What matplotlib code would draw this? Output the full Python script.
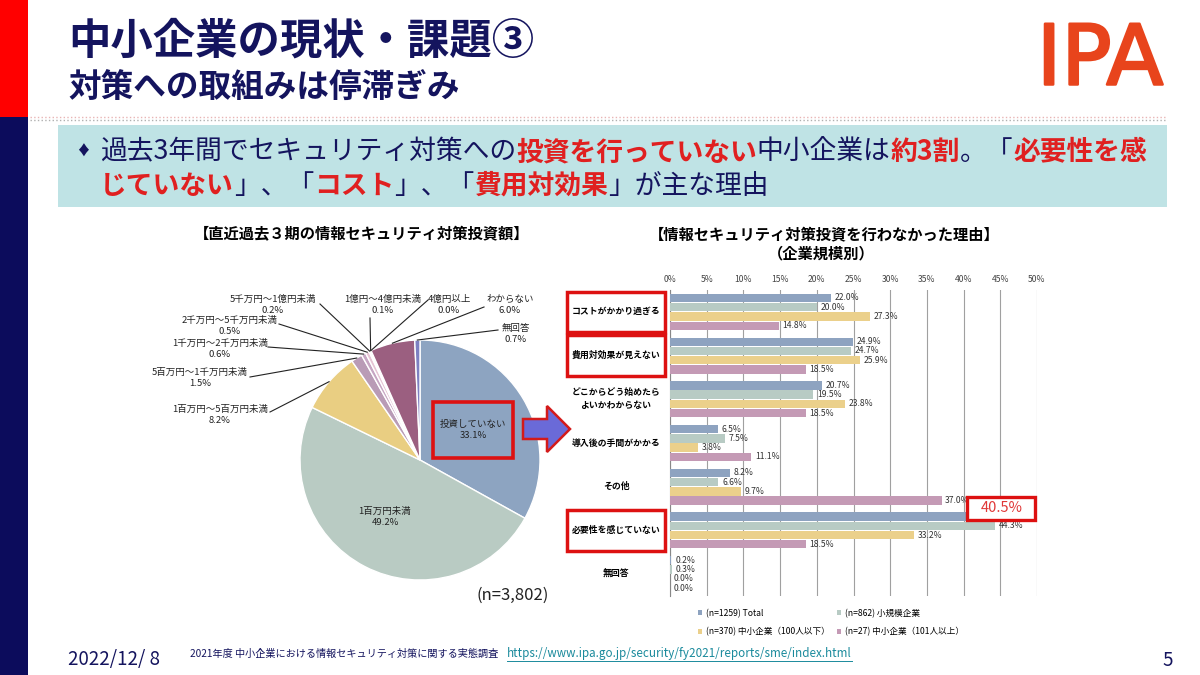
import matplotlib
matplotlib.use('Agg')
import numpy as np
import matplotlib.pyplot as plt
import matplotlib.patches as mpatches
import matplotlib.patheffects as pe
from matplotlib.transforms import blended_transform_factory

plt.rcParams['font.family'] = ['Noto Sans CJK JP', 'DejaVu Sans']

# --- pie data ---
pie_labels = ['投資していない', '1百万円未満', '1百万円～5百万円未満', '5百万円～1千万円未満',
              '1千万円～2千万円未満', '2千万円～5千万円未満', '5千万円～1億円未満',
              '1億円～4億円未満', '4億円以上', 'わからない', '無回答']
pie_values = [33.1, 49.2, 8.2, 1.5, 0.6, 0.5, 0.2, 0.1, 0.0, 6.0, 0.7]

# --- bar data ---
reasons = ['コストがかかり過ぎる', '費用対効果が見えない', 'どこからどう始めたら\nよいかわからない',
           '導入後の手間がかかる', 'その他', '必要性を感じていない', '無回答']
total = [22.0, 24.9, 20.7, 6.5, 8.2, 40.5, 0.2]
small_biz = [20.0, 24.7, 19.5, 7.5, 6.6, 44.3, 0.3]
sme_100 = [27.3, 25.9, 23.8, 3.8, 9.7, 33.2, 0.0]
sme_101 = [14.8, 18.5, 18.5, 11.1, 37.0, 18.5, 0.0]
series_names = ['(n=1259) Total', '(n=862) 小規模企業', '(n=370) 中小企業（100人以下）', '(n=27) 中小企業（101人以上）']
xticks = [0, 5, 10, 15, 20, 25, 30, 35, 40, 45, 50]

# styles
NAVY = '#14145e'
RED = '#e02020'
pie_colors = ['#8da4c1', '#b9cbc3', '#e9ce82', '#b99bb6', '#c7a6c3', '#e6c4d4',
              '#f0cfc0', '#d8d0e8', '#cccccc', '#9b5f80', '#7d80c2']
bar_colors = ['#8ea3c0', '#b8cbc4', '#ebd08b', '#c49ab5']

W, H = 1200, 675
fig = plt.figure(figsize=(12, 6.75), dpi=100)
fig.patch.set_facecolor('white')

ax_bg = fig.add_axes([0, 0, 1, 1], zorder=0)
ax_bg.set_xlim(0, W)
ax_bg.set_ylim(H, 0)
ax_bg.axis('off')

ax_top = fig.add_axes([0, 0, 1, 1], zorder=5)
ax_top.set_xlim(0, W)
ax_top.set_ylim(H, 0)
ax_top.axis('off')
ax_top.patch.set_alpha(0)

# slide frame
ax_bg.add_patch(mpatches.Rectangle((0, 0), 28, 117, fc='#ff0000', ec='none'))
ax_bg.add_patch(mpatches.Rectangle((0, 117), 28, H - 117, fc='#0c0c5c', ec='none'))
ax_bg.plot([30, 1165], [117, 117], color='#e8b4b4', ls=':', lw=1)
ax_bg.plot([30, 1165], [120, 120], color='#b0b0b0', ls=':', lw=1)

ax_bg.text(68, 42, '中小企業の現状・課題③', fontsize=30.5, weight='bold', color=NAVY, va='center')
ax_bg.text(68, 88, '対策への取組みは停滞ぎみ', fontsize=23.5, weight='bold', color=NAVY, va='center')
ax_bg.text(1100, 61, 'IPA', fontsize=60, color='#e8441c', va='center', ha='center',
           family='DejaVu Sans', weight='normal',
           path_effects=[pe.withStroke(linewidth=1.8, foreground='#e8441c', capstyle='round', joinstyle='round')])

# summary box
ax_bg.add_patch(mpatches.Rectangle((58, 125), 1109, 82, fc='#bfe3e5', ec='none'))
renderer = fig.canvas.get_renderer()


def draw_runs(ax, x, y, runs, size):
    for txt, col, wt in runs:
        t = ax.text(x, y, txt, fontsize=size, color=col, weight=wt, va='center', ha='left')
        x += t.get_window_extent(renderer).width
    return x


ax_bg.text(76, 152, '♦', fontsize=10, color=NAVY, va='center')
draw_runs(ax_bg, 100, 152, [('過去3年間でセキュリティ対策への', NAVY, 'normal'),
                            ('投資を行っていない', RED, 'bold'), ('中小企業は', NAVY, 'normal'),
                            ('約3割', RED, 'bold'), ('。「', NAVY, 'normal'),
                            ('必要性を感', RED, 'bold')], 19.3)
draw_runs(ax_bg, 100, 186, [('じていない', RED, 'bold'), ('」、「', NAVY, 'normal'),
                            ('コスト', RED, 'bold'), ('」、「', NAVY, 'normal'),
                            ('費用対効果', RED, 'bold'), ('」が主な理由', NAVY, 'normal')], 19.3)

# chart titles
ax_bg.text(362, 234, '【直近過去３期の情報セキュリティ対策投資額】', fontsize=11, weight='bold', ha='center', va='center')
ax_bg.text(824, 234, '【情報セキュリティ対策投資を行わなかった理由】', fontsize=11, weight='bold', ha='center', va='center')
ax_bg.text(821, 253, '（企業規模別）', fontsize=11, weight='bold', ha='center', va='center')

# footer
ax_bg.text(68, 660, '2022/12/ 8', fontsize=13.5, color=NAVY, va='center')
ax_bg.text(190, 654, '2021年度 中小企業における情報セキュリティ対策に関する実態調査', fontsize=7.3, color=NAVY, va='center')
link = ax_bg.text(507, 654, 'https://www.ipa.go.jp/security/fy2021/reports/sme/index.html', fontsize=8.4,
                  color='#1a8a9c', va='center')
lw_px = link.get_window_extent(renderer).width
ax_bg.plot([507, 507 + lw_px], [661, 661], color='#1a8a9c', lw=0.7)
ax_bg.text(1162, 660, '5', fontsize=13.5, color=NAVY, va='center')

# --- pie ---
PIE_CX, PIE_CY, PIE_R = 420, 460, 120
ax_pie = fig.add_axes([(PIE_CX - PIE_R) / W, (H - PIE_CY - PIE_R) / H, 2 * PIE_R / W, 2 * PIE_R / H], zorder=2)
wedges, _ = ax_pie.pie(pie_values, startangle=90, counterclock=False, colors=pie_colors,
                       wedgeprops=dict(edgecolor='white', linewidth=1))
ax_pie.set_xlim(-1, 1)
ax_pie.set_ylim(-1, 1)


def px2pie(px, py):
    return (px - PIE_CX) / PIE_R, (PIE_CY - py) / PIE_R


# label layout in pixels: (text x, text y, line end x, line end y); None = inside label
pie_label_pos = [(473, 430, None, None), (385, 517, None, None), (220, 415, 270, 412),
                 (200, 378, 250, 377), (220, 349, 268, 347), (230, 326, 279, 324),
                 (273, 305, 320, 304), (383, 305, 370, 318), (449, 305, 428, 300),
                 (510, 305, 484, 307), (516, 334, 498, 330)]

for w, lab, val, (tx, ty, lx, ly) in zip(wedges, pie_labels, pie_values, pie_label_pos):
    px, py = px2pie(tx, ty)
    ax_pie.text(px, py, f'{lab}\n{val:.1f}%', fontsize=6.8, ha='center', va='center',
                color='#222222', linespacing=1.2)
    if lx is not None:
        mid = np.deg2rad((w.theta1 + w.theta2) / 2)
        ex, ey = px2pie(lx, ly)
        ax_pie.plot([np.cos(mid), ex], [np.sin(mid), ey], color='#222222', lw=0.8, clip_on=False)

ax_bg.text(513, 595, '(n=3,802)', fontsize=12, color='#222222', ha='center', va='center')

# --- bars ---
BX0, BX1, BY0, BY1 = 670, 1037, 290, 596
ax_bar = fig.add_axes([BX0 / W, (H - BY1) / H, (BX1 - BX0) / W, (BY1 - BY0) / H], zorder=2)
ax_bar.set_xlim(0, 50)
ax_bar.set_ylim(len(reasons) - 0.5, -0.5)
series = [total, small_biz, sme_100, sme_101]
step, bh = 0.212, 0.19
bars = []
highlight = None
for j, (vals, col, name) in enumerate(zip(series, bar_colors, series_names)):
    ys = [i + (j - 1.5) * step for i in range(len(reasons))]
    b = ax_bar.barh(ys, vals, height=bh, color=col, label=name, zorder=3)
    bars.append(b)
    for i, (y, v) in enumerate(zip(ys, vals)):
        if i == 5 and j == 0:
            highlight = (v, y)
        else:
            ax_bar.text(v + 0.5, y, f'{v:.1f}%', va='center', ha='left', fontsize=6.2, color='#333333', zorder=4)

ax_bar.set_xticks(xticks)
ax_bar.set_xticklabels([f'{t}%' for t in xticks], fontsize=6.2, color='#444444')
ax_bar.xaxis.tick_top()
ax_bar.tick_params(axis='x', length=0, pad=4)
ax_bar.set_yticks([])
ax_bar.grid(axis='x', color='#a0a0a0', lw=0.8, zorder=0)
for s in ['top', 'right', 'bottom']:
    ax_bar.spines[s].set_visible(False)
ax_bar.spines['left'].set_color('#888888')
ax_bar.patch.set_alpha(0)

bt = blended_transform_factory(ax_bar.transAxes, ax_bar.transData)
box_x0 = (567 - BX0) / (BX1 - BX0)
box_x1 = (665 - BX0) / (BX1 - BX0)
for i, r in enumerate(reasons):
    ax_bar.text((box_x0 + box_x1) / 2, i, r, transform=bt, ha='center', va='center', fontsize=6.4,
                weight='bold', multialignment='center', linespacing=1.6)
    if i in (0, 1, 5):
        ax_bar.add_patch(mpatches.Rectangle((box_x0, i - 0.46), box_x1 - box_x0, 0.92, transform=bt,
                                            fill=False, ec='#dd1111', lw=2.5, clip_on=False, zorder=6))

handles = [bars[0], bars[2], bars[1], bars[3]]
labels = [series_names[0], series_names[2], series_names[1], series_names[3]]
ax_bar.legend(handles, labels, loc='upper left', bbox_to_anchor=(690 / W, (H - 601) / H),
              bbox_transform=fig.transFigure, ncol=2, frameon=False, fontsize=6.2,
              handlelength=0.5, handleheight=0.5, handletextpad=0.4, labelspacing=1.1,
              columnspacing=0.9)

# highlighted value box (pixel position from the bar end)
hv, hy = highlight
dx, dy = ax_bar.transData.transform((hv, hy))
hx, hpy = dx, H - dy
ax_top.add_patch(mpatches.Rectangle((hx, hpy - 20), 68, 23, fc='white', ec='#dd1111', lw=2.4))
ax_top.text(hx + 34, hpy - 8.5, f'{hv:.1f}%', fontsize=10.5, color='#e03838', ha='center', va='center')

# highlight box and arrow
ax_top.add_patch(mpatches.Rectangle((433, 402), 80, 56, fill=False, ec='#dd1111', lw=2.6))
ax_top.add_patch(mpatches.FancyArrow(523, 429, 47, 0, width=20, head_width=46, head_length=23,
                                     length_includes_head=True, fc='#6a6ad8', ec='#d41a1a', lw=1.8))

plt.savefig('out.png', dpi=100)
